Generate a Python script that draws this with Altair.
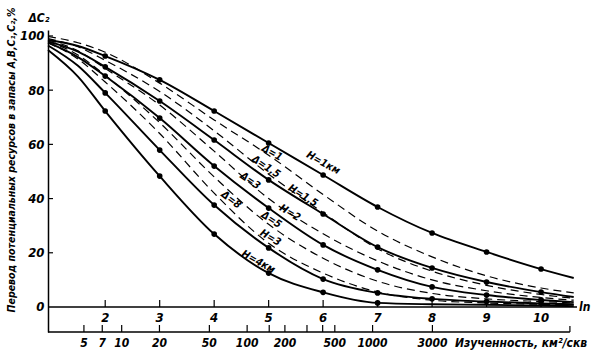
import altair as alt
import pandas as pd
import numpy as np

# ---- data (x = ln of km2/well, y = %) ----
ln_pts = [0.95, 1.5, 2, 3, 4, 5, 6, 7, 8, 9, 10, 10.6]

H1 = [98.5, 96.3, 92.6, 83.8, 72.3, 60.5, 48.7, 36.9, 27.3, 20.3, 14.0, 10.7]
H15 = [98.0, 94.2, 88.6, 76.0, 61.6, 46.9, 34.3, 22.1, 14.4, 9.2, 5.5, 3.7]
H2 = [97.5, 92.2, 85.2, 69.7, 52.0, 36.5, 22.9, 13.7, 7.4, 4.4, 2.6, 1.8]
H3 = [96.5, 89.0, 79.0, 57.9, 37.6, 21.8, 10.3, 5.2, 3.0, 2.0, 1.3, 1.0]
H4 = [94.8, 85.0, 72.3, 48.3, 26.9, 12.5, 5.4, 1.5, 1.0, 0.8, 0.5, 0.3]

D1 = [99.8, 97.5, 94.0, 82.6, 69.0, 56.0, 41.5, 28.0, 18.5, 11.5, 7.0, 5.2]
D15 = [99.0, 96.0, 91.0, 79.5, 65.0, 49.0, 34.8, 21.5, 13.2, 8.0, 4.6, 3.2]
D3 = [98.5, 94.5, 88.0, 74.5, 57.5, 40.0, 27.0, 17.0, 10.0, 6.0, 3.5, 2.5]
D5 = [98.0, 93.0, 85.5, 68.0, 48.0, 30.5, 18.0, 9.5, 5.0, 3.0, 2.0, 1.5]
D8 = [97.5, 91.5, 83.0, 64.0, 42.0, 23.5, 12.5, 5.5, 2.5, 1.5, 1.0, 0.8]

solid_names = ["H=1", "H=1,5", "H=2", "H=3", "H=4"]
solid_vals = [H1, H15, H2, H3, H4]
dot_max_ln = [10, 10, 10, 10, 7]
dashed_names = ["Δ=1", "Δ=1,5", "Δ=3", "Δ=5", "Δ=8"]
dashed_vals = [D1, D15, D3, D5, D8]

ln_ticks = [2, 3, 4, 5, 6, 7, 8, 9, 10]
area_labels = [5, 7, 10, 20, 50, 100, 200, 500, 1000, 3000]
area_ticks = [5, 7, 10, 20, 50, 100, 150, 200, 300, 400, 500, 1000, 3000]
y_ticks = [0, 20, 40, 60, 80, 100]

lab_text = ["H=1км", "H=1,5", "H=2", "H=3", "H=4км", "Δ=1", "Δ=1,5", "Δ=3", "Δ=8", "Δ=5"]
lab_ln = [6.0, 5.63, 5.39, 5.03, 4.81, 5.06, 4.95, 4.66, 4.31, 5.05]
lab_v = [53.1, 41.0, 34.7, 25.5, 16.6, 56.8, 51.7, 46.5, 39.5, 32.1]
lab_ang = [29, 32, 31, 31, 29, 30, 34, 35, 37, 33]

FONT = "Liberation Sans Narrow, DejaVu Sans Condensed, Liberation Sans, sans-serif"

# ---- tables ----
solid_rows, dot_rows, dash_rows = [], [], []
for name, vals, mx in zip(solid_names, solid_vals, dot_max_ln):
    for l, v in zip(ln_pts, vals):
        solid_rows.append({"ln": l, "v": v, "curve": name})
        if 2 <= l <= mx and float(l).is_integer():
            dot_rows.append({"ln": l, "v": v, "curve": name})
for name, vals in zip(dashed_names, dashed_vals):
    for l, v in zip(ln_pts, vals):
        dash_rows.append({"ln": l, "v": v, "curve": name})

solid_df = pd.DataFrame(solid_rows)
dot_df = pd.DataFrame(dot_rows)
dash_df = pd.DataFrame(dash_rows)
lab_df = pd.DataFrame({"ln": lab_ln, "v": lab_v, "t": lab_text, "ang": lab_ang})

xs = alt.Scale(domain=[0.95, 10.66], nice=False, zero=False)
ys = alt.Scale(domain=[-9.23, 102.2], nice=False, zero=False)
yax = alt.Axis(values=y_ticks, ticks=False, grid=False, title=None,
               labelFont=FONT, labelFontSize=13, labelFontStyle="italic",
               labelFontWeight="bold", labelColor="black", labelPadding=4,
               domainColor="black", domainWidth=1.5)
X = lambda f="ln": alt.X(f"{f}:Q", scale=xs, axis=None)
Y = lambda f="v": alt.Y(f"{f}:Q", scale=ys, axis=yax)

solid = alt.Chart(solid_df).mark_line(color="black", strokeWidth=1.9, interpolate="monotone").encode(
    x=X(), y=Y(), detail="curve:N")
dashed = alt.Chart(dash_df).mark_line(color="black", strokeWidth=1.2, strokeDash=[8, 5],
                                      interpolate="monotone").encode(x=X(), y=Y(), detail="curve:N")
dots = alt.Chart(dot_df).mark_circle(color="black", size=32, opacity=1).encode(x=X(), y=Y())

labels = alt.Chart(lab_df).mark_text(font=FONT, fontSize=10.5, fontStyle="italic", fontWeight="bold",
                                     color="black").encode(
    x=X(), y=Y(), text="t:N", angle=alt.Angle("ang:Q", scale=None))

# ln axis (y = 0 line)
ln_line = alt.Chart(pd.DataFrame({"a": [0.95], "b": [10.66], "v": [0]})).mark_rule(
    color="black", strokeWidth=1.5).encode(x=X("a"), x2="b:Q", y=Y())
ln_tick_df = pd.DataFrame({"ln": ln_ticks, "v": [0] * len(ln_ticks), "v2": [2.6] * len(ln_ticks),
                           "t": [str(t) for t in ln_ticks]})
ln_tk = alt.Chart(ln_tick_df).mark_rule(color="black", strokeWidth=1.2).encode(x=X(), y=Y(), y2="v2:Q")
ln_lb = alt.Chart(ln_tick_df).mark_text(font=FONT, fontSize=13, fontStyle="italic", fontWeight="bold",
                                        color="black").encode(x=X(), y=alt.value(288), text="t:N")
ln_name = alt.Chart(pd.DataFrame({"ln": [10.66], "t": ["ln"]})).mark_text(
    font=FONT, fontSize=12, fontStyle="italic", fontWeight="bold", align="left", dx=2, color="black").encode(
    x=X(), y=alt.value(277), text="t:N")

# bottom (km2 per well) axis
bot_line = alt.Chart(pd.DataFrame({"a": [0.95], "b": [10.53]})).mark_rule(
    color="black", strokeWidth=1.5).encode(x=X("a"), x2="b:Q", y=alt.value(302))
bot_end = alt.Chart(pd.DataFrame({"a": [10.53]})).mark_rule(color="black", strokeWidth=1.2).encode(
    x=X("a"), y=alt.value(302), y2=alt.value(296))
at_df = pd.DataFrame({"ln": np.log(area_ticks)})
bot_tk = alt.Chart(at_df).mark_rule(color="black", strokeWidth=1.2).encode(
    x=X(), y=alt.value(302), y2=alt.value(295))
al_df = pd.DataFrame({"ln": np.log(area_labels), "t": [str(a) for a in area_labels]})
bot_lb = alt.Chart(al_df).mark_text(font=FONT, fontSize=12, fontStyle="italic", fontWeight="bold",
                                    color="black").encode(x=X(), y=alt.value(313), text="t:N")
bot_title = alt.Chart(pd.DataFrame({"t": ["Изученность, км²/скв"]})).mark_text(
    font=FONT, fontSize=12, fontStyle="italic", fontWeight="bold", align="left", color="black").encode(
    x=alt.value(407), y=alt.value(313), text="t:N")

# y ticks (inward) and titles
ytk = alt.Chart(pd.DataFrame({"v": y_ticks[1:]})).mark_rule(color="black", strokeWidth=1.2).encode(
    y=Y(), x=alt.value(0), x2=alt.value(5))
ytitle = alt.Chart(pd.DataFrame({"t": ["Перевод потенциальных ресурсов в запасы A,B,C₁,C₂,%"]})).mark_text(
    font=FONT, fontSize=10.5, fontStyle="italic", fontWeight="bold", angle=270, color="black").encode(
    x=alt.value(-36), y=alt.value(130), text="t:N")
dc2 = alt.Chart(pd.DataFrame({"t": ["ΔC₂"]})).mark_text(
    font=FONT, fontSize=12, fontStyle="italic", fontWeight="bold", color="black").encode(
    x=alt.value(-9), y=alt.value(-12), text="t:N")

chart = alt.layer(
    solid, dashed, dots, labels, ln_line, ln_tk, ln_lb, ln_name,
    bot_line, bot_end, bot_tk, bot_lb, bot_title, ytk, ytitle, dc2
).properties(
    width=529, height=302,
    padding={"left": 48, "top": 30, "right": 20, "bottom": 22},
    autosize=alt.AutoSizeParams(type="none"),
    background="white"
).configure_view(stroke=None)

chart.save("out.html", embed_options={"renderer": "svg", "actions": False})
